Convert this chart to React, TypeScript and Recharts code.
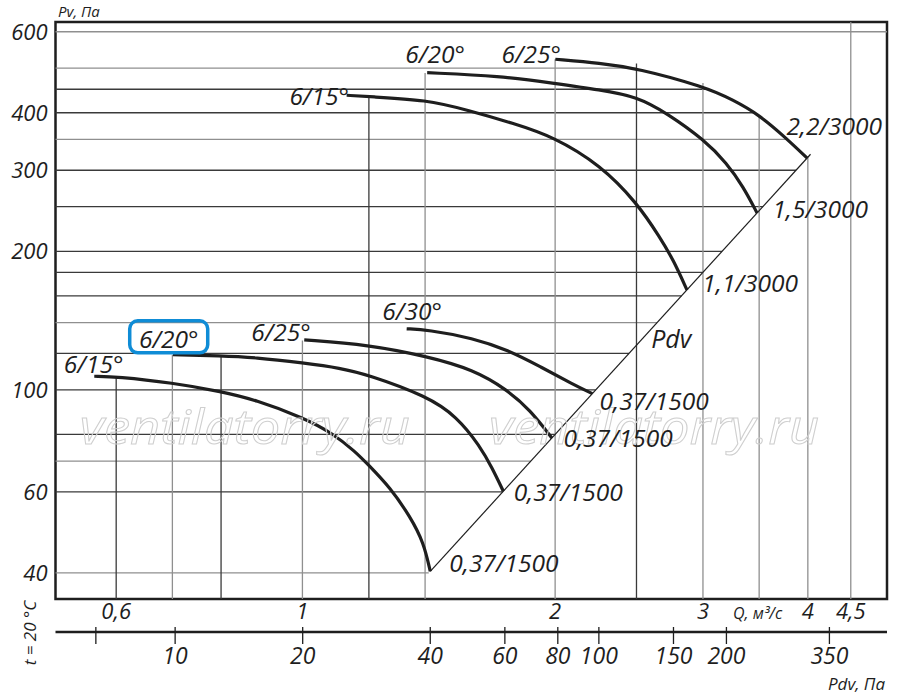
import React from "react";
import {
  LineChart,
  Line,
  XAxis,
  YAxis,
  ReferenceLine,
  ReferenceDot,
  ReferenceArea,
  Customized,
} from "recharts";

const INK = "#1e1e1e";
const GRID_DARK = "#3a3a3a";
const GRID_LIGHT = "#8f8f8f";

// axes (Q in m3/s, Pv and Pdv in Pa)
const qDomain = [0.508, 4.97];
const pvDomain = [35.1, 630];
const pdvDomain = [5.22, 478.6];
const qTicks = [0.6, 1, 2, 3, 4, 4.5];
const pvTicks = [40, 60, 100, 200, 300, 400, 600];
const pdvTicks = [6.5, 10, 20, 40, 60, 80, 100, 150, 200, 350];
const pdvUnlabelled = [6.5];

// grid: horizontal lines stop at the Pdv line / outer curve, vertical ones at the top curve
const gridPv = [600, 500, 450, 400, 350, 300, 250, 200, 180, 160, 140, 120, 100, 80, 70, 60, 40];
const gridPvEndQ = [4.97, 2.5, 3.05, 3.46, 3.78, 3.873, 3.536, 3.162, 3.0, 2.828, 2.646, 2.449, 2.236, 2.0, 1.871, 1.732, 1.414];
const gridQ = [0.6, 0.7, 0.8, 1, 1.2, 1.4, 2, 2.5, 3, 3.5, 4, 4.5];
const gridQEndPv = [107, 119, 119, 128, 435, 488, 523, 512, 464, 392, 320, 630];
const lightPv = [600, 500, 350, 140, 70, 40];
const lightQ = [0.7, 1, 1.4, 2, 3, 3.5, 4, 4.5];

// 3000 rpm curves
const upper15 = [
  { q: 1.129, p: 436.6 }, { q: 1.198, p: 433.6 }, { q: 1.408, p: 426.6 }, { q: 1.57, p: 405.7 },
  { q: 1.784, p: 379.5 }, { q: 1.99, p: 355.0 }, { q: 2.264, p: 308.2 }, { q: 2.504, p: 254.8 },
  { q: 2.668, p: 214.0 }, { q: 2.765, p: 191.7 }, { q: 2.871, p: 164.9 },
];
const upper20 = [
  { q: 1.408, p: 488.8 }, { q: 1.72, p: 481.0 }, { q: 1.99, p: 463.6 }, { q: 2.264, p: 448.4 },
  { q: 2.504, p: 433.6 }, { q: 2.717, p: 399.2 }, { q: 3.011, p: 349.2 }, { q: 3.203, p: 310.8 },
  { q: 3.35, p: 276.4 }, { q: 3.48, p: 242.2 },
];
const upper25 = [
  { q: 2.001, p: 522.8 }, { q: 2.264, p: 512.6 }, { q: 2.504, p: 499.8 }, { q: 3.011, p: 455.9 },
  { q: 3.259, p: 426.6 }, { q: 3.5, p: 395.8 }, { q: 3.739, p: 357.0 }, { q: 3.993, p: 318.9 },
];

// 1500 rpm curves
const lower15 = [
  { q: 0.565, p: 107.0 }, { q: 0.601, p: 106.8 }, { q: 0.701, p: 103.5 }, { q: 0.799, p: 99.2 },
  { q: 0.878, p: 95.2 }, { q: 1.005, p: 86.8 }, { q: 1.084, p: 80.6 }, { q: 1.156, p: 73.4 },
  { q: 1.197, p: 68.8 }, { q: 1.272, p: 61.3 }, { q: 1.344, p: 53.0 }, { q: 1.395, p: 46.5 },
  { q: 1.42, p: 40.3 },
];
const lower20 = [
  { q: 0.701, p: 119.2 }, { q: 0.799, p: 118.6 }, { q: 0.878, p: 117.6 }, { q: 1.005, p: 114.3 },
  { q: 1.109, p: 111.5 }, { q: 1.198, p: 107.8 }, { q: 1.408, p: 96.8 }, { q: 1.527, p: 87.5 },
  { q: 1.628, p: 75.4 }, { q: 1.682, p: 67.7 }, { q: 1.735, p: 60.2 },
];
const lower25 = [
  { q: 1.005, p: 128.4 }, { q: 1.198, p: 125.3 }, { q: 1.408, p: 118.2 }, { q: 1.599, p: 110.6 },
  { q: 1.752, p: 100.1 }, { q: 1.867, p: 90.5 }, { q: 1.982, p: 78.6 },
];
const lower30 = [
  { q: 1.331, p: 135.7 }, { q: 1.408, p: 135.0 }, { q: 1.599, p: 129.5 }, { q: 1.752, p: 122.2 },
  { q: 1.919, p: 112.4 }, { q: 2.103, p: 102.6 }, { q: 2.215, p: 98.1 },
];

// dynamic pressure line through the curve ends
const pdvLine = [
  { q: 1.42, p: 40.3 },
  { q: 4.03, p: 325 },
];

const curves = [upper15, upper20, upper25, lower15, lower20, lower25, lower30];

// text anchored in data space (text centre, baseline)
const notes = [
  { text: "6/15°", q: 1.047, p: 416 },
  { text: "6/20°", q: 1.439, p: 513 },
  { text: "6/25°", q: 1.873, p: 513 },
  { text: "2,2/3000", q: 4.3, p: 358 },
  { text: "1,5/3000", q: 4.138, p: 236 },
  { text: "1,1/3000", q: 3.415, p: 163 },
  { text: "Pdv", q: 2.75, p: 123.4 },
  { text: "6/15°", q: 0.564, p: 108.9 },
  { text: "6/20°", q: 0.693, p: 123.4, boxed: true },
  { text: "6/25°", q: 0.943, p: 127.8 },
  { text: "6/30°", q: 1.351, p: 142 },
  { text: "0,37/1500", q: 2.624, p: 90.5 },
  { text: "0,37/1500", q: 2.377, p: 75.2 },
  { text: "0,37/1500", q: 2.073, p: 57.2 },
  { text: "0,37/1500", q: 1.738, p: 40.1 },
];
const watermarks = [
  { q: 0.854, p: 76.4 },
  { q: 2.624, p: 76.4 },
];

const fmt = (v: number) => String(v).replace(".", ",");

const PdvTick = (props: any) => {
  const { x, y, payload } = props;
  const v = payload.value;
  return (
    <g>
      <line x1={x} x2={x} y1={y - 5} y2={y + 12} stroke={INK} strokeWidth={1.3} />
      {!pdvUnlabelled.includes(v) && (
        <text x={x} y={y + 32} textAnchor="middle" fontSize={23} fill={INK}>
          {v}
        </text>
      )}
    </g>
  );
};

const AxisTitles = () => (
  <g fill={INK}>
    <text x={58} y={17} fontSize={15}>Pv, Па</text>
    <text x={733} y={619} fontSize={16}>Q, м³/с</text>
    <text x={885} y={690} fontSize={17} textAnchor="end">Pdv, Па</text>
    <text x={36} y={633} fontSize={17} textAnchor="middle" transform="rotate(-90 36 633)">
      t = 20 °C
    </text>
  </g>
);

export default function App() {
  return (
    <div>
      <style>{`
        body { margin: 0; }
        .recharts-wrapper text { font-family: 'Open Sans', 'DejaVu Sans', sans-serif; font-style: italic; }
      `}</style>
      <LineChart width={900} height={694} margin={{ top: 22, right: 13, left: 0, bottom: 0 }}>
        <XAxis
          xAxisId="b"
          dataKey="pdv"
          type="number"
          scale="log"
          domain={pdvDomain}
          allowDataOverflow
          ticks={pdvTicks}
          interval={0}
          height={62}
          axisLine={{ stroke: INK, strokeWidth: 2.5 }}
          tickLine={false}
          tickSize={0}
          tickMargin={0}
          tick={<PdvTick />}
        />
        <XAxis
          xAxisId="a"
          dataKey="q"
          type="number"
          scale="log"
          domain={qDomain}
          allowDataOverflow
          ticks={qTicks}
          interval={0}
          tickFormatter={fmt}
          height={33}
          axisLine={false}
          tickLine={false}
          tickSize={0}
          tickMargin={4}
          tick={{ fontSize: 22, fill: INK }}
        />
        <YAxis
          dataKey="p"
          type="number"
          scale="log"
          domain={pvDomain}
          allowDataOverflow
          ticks={pvTicks}
          interval={0}
          width={55.5}
          axisLine={false}
          tickLine={false}
          tickSize={0}
          tickMargin={8}
          tick={{ fontSize: 22, fill: INK }}
        />

        {watermarks.map((w, i) => (
          <ReferenceDot
            key={"wm" + i}
            xAxisId="a"
            x={w.q}
            y={w.p}
            r={0}
            ifOverflow="visible"
            shape={(s: any) => (
              <text
                x={s.cx}
                y={s.cy}
                textAnchor="middle"
                fontSize={48}
                textLength={330}
                lengthAdjust="spacingAndGlyphs"
                style={{ fill: "none", stroke: "#cfcfcf", strokeWidth: 1 }}
              >
                ventilatorry.ru
              </text>
            )}
          />
        ))}

        {gridPv.map((p, i) => (
          <ReferenceLine
            key={"h" + p}
            xAxisId="a"
            segment={[{ x: qDomain[0], y: p }, { x: gridPvEndQ[i], y: p }]}
            stroke={lightPv.includes(p) ? GRID_LIGHT : GRID_DARK}
            strokeWidth={1.3}
            ifOverflow="visible"
          />
        ))}
        {gridQ.map((q, i) => (
          <ReferenceLine
            key={"v" + q}
            xAxisId="a"
            segment={[{ x: q, y: pvDomain[0] }, { x: q, y: gridQEndPv[i] }]}
            stroke={lightQ.includes(q) ? GRID_LIGHT : GRID_DARK}
            strokeWidth={1.3}
            ifOverflow="visible"
          />
        ))}

        <ReferenceArea
          xAxisId="a"
          x1={qDomain[0]}
          x2={qDomain[1]}
          y1={pvDomain[0]}
          y2={pvDomain[1]}
          fill="none"
          stroke={INK}
          strokeWidth={2.5}
          ifOverflow="visible"
        />

        <Line
          xAxisId="a"
          data={pdvLine}
          dataKey="p"
          stroke={INK}
          strokeWidth={1.2}
          dot={false}
          activeDot={false}
          isAnimationActive={false}
        />
        {curves.map((c, i) => (
          <Line
            key={"c" + i}
            xAxisId="a"
            data={c}
            dataKey="p"
            type="basis"
            stroke={INK}
            strokeWidth={3.2}
            dot={false}
            activeDot={false}
            isAnimationActive={false}
          />
        ))}

        {notes.map((n, i) => (
          <ReferenceDot
            key={"n" + i}
            xAxisId="a"
            x={n.q}
            y={n.p}
            r={0}
            ifOverflow="visible"
            shape={(s: any) => (
              <g>
                {n.boxed && (
                  <rect
                    x={s.cx - 39}
                    y={s.cy - 27}
                    width={78}
                    height={32}
                    rx={8}
                    fill="none"
                    stroke="#0f8cd6"
                    strokeWidth={3.5}
                  />
                )}
                <text
                  x={s.cx}
                  y={s.cy}
                  textAnchor="middle"
                  fontSize={n.text === "Pdv" ? 25 : 24.5}
                  fill={INK}
                >
                  {n.text}
                </text>
              </g>
            )}
          />
        ))}

        <Customized component={AxisTitles} />
      </LineChart>
    </div>
  );
}
